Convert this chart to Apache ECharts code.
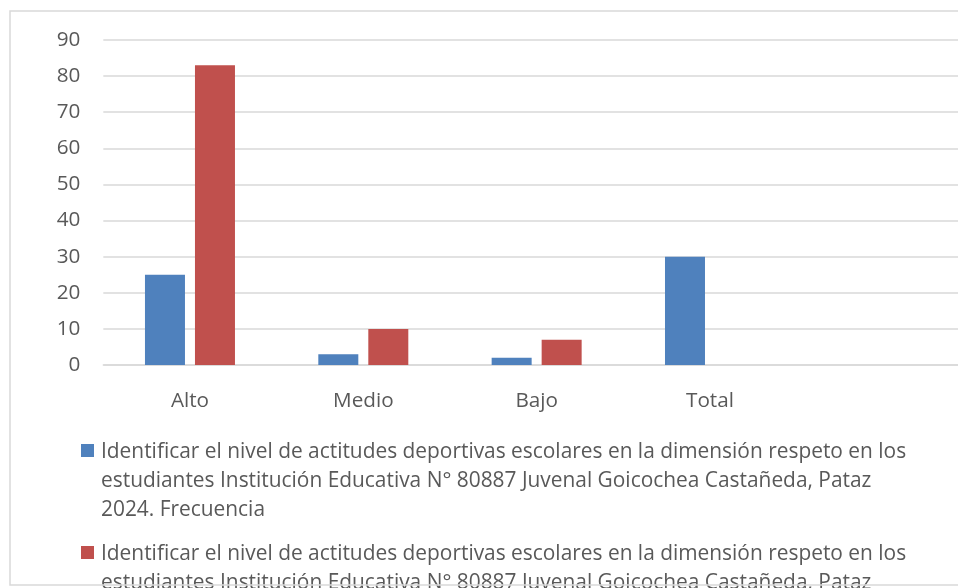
<!DOCTYPE html>
<html>
<head>
<meta charset="utf-8">
<script src="https://cdn.jsdelivr.net/npm/echarts@6/dist/echarts.min.js"></script>
<style>
html,body{margin:0;padding:0;background:#fff;}
#chart{width:958px;height:588px;}
</style>
</head>
<body>
<div id="chart"></div>
<script>
const categories = ['Alto', 'Medio', 'Bajo', 'Total', ''];
const frecuencia = [25, 3, 2, 30, null];
const porcentaje = [83, 10, 7, null, null];
const yTicks = { min: 0, max: 90, interval: 10 };
const seriesNames = [
  'Identificar el nivel de actitudes deportivas escolares en la dimensión respeto en los estudiantes Institución Educativa N° 80887 Juvenal Goicochea Castañeda, Pataz 2024. Frecuencia',
  'Identificar el nivel de actitudes deportivas escolares en la dimensión respeto en los estudiantes Institución Educativa N° 80887 Juvenal Goicochea Castañeda, Pataz 2024. Porcentaje'
];
const legendLines = {
  [seriesNames[0]]: 'Identificar el nivel de actitudes deportivas escolares en la dimensión respeto en los\nestudiantes Institución Educativa N° 80887 Juvenal Goicochea Castañeda, Pataz\n2024. Frecuencia',
  [seriesNames[1]]: 'Identificar el nivel de actitudes deportivas escolares en la dimensión respeto en los\nestudiantes Institución Educativa N° 80887 Juvenal Goicochea Castañeda, Pataz\n2024. Porcentaje'
};

const FONT = '"Open Sans", "Liberation Sans", sans-serif';
const chart = echarts.init(document.getElementById('chart'), null, { renderer: 'canvas' });
const iconPath = 'path://M0,0h0.05v0.05h-0.05z M0,6h13v13h-13z M0,86.95h0.05v0.05h-0.05z';

chart.setOption({
  animation: false,
  backgroundColor: '#ffffff',
  graphic: [{
    type: 'polyline',
    shape: { points: [[1000, 11], [10, 11], [10, 585], [1000, 585]] },
    style: { fill: null, stroke: '#d9d9d9', lineWidth: 1.5 },
    z: 100, silent: true
  }],
  grid: { left: 103.3, width: 866.7, top: 40, bottom: 223, containLabel: false, outerBoundsMode: 'none' },
  xAxis: {
    type: 'category',
    data: categories,
    axisLine: { lineStyle: { color: '#d9d9d9', width: 1.5 } },
    axisTick: { show: false },
    axisLabel: { color: '#595959', fontFamily: FONT, fontSize: 20.7, margin: 26 }
  },
  yAxis: {
    type: 'value',
    min: yTicks.min, max: yTicks.max, interval: yTicks.interval,
    axisLine: { show: false },
    axisTick: { show: false },
    splitLine: { lineStyle: { color: '#d9d9d9', width: 1.5 } },
    axisLabel: { color: '#595959', fontFamily: FONT, fontSize: 20.7, margin: 23 }
  },
  legend: {
    orient: 'vertical',
    left: 81, top: 438,
    height: 300,
    padding: 0,
    itemWidth: 13, itemHeight: 87,
    itemGap: 15,
    icon: iconPath,
    selectedMode: false,
    formatter: name => legendLines[name],
    textStyle: { color: '#595959', fontFamily: FONT, fontSize: 20.9, lineHeight: 29, padding: [0, 0, 0, 2] }
  },
  series: [
    { name: seriesNames[0], type: 'bar', data: frecuencia, barWidth: 40, barGap: '25%', itemStyle: { color: '#4f81bd' } },
    { name: seriesNames[1], type: 'bar', data: porcentaje, barWidth: 40, barGap: '25%', itemStyle: { color: '#c0504d' } }
  ]
});
</script>
</body>
</html>
